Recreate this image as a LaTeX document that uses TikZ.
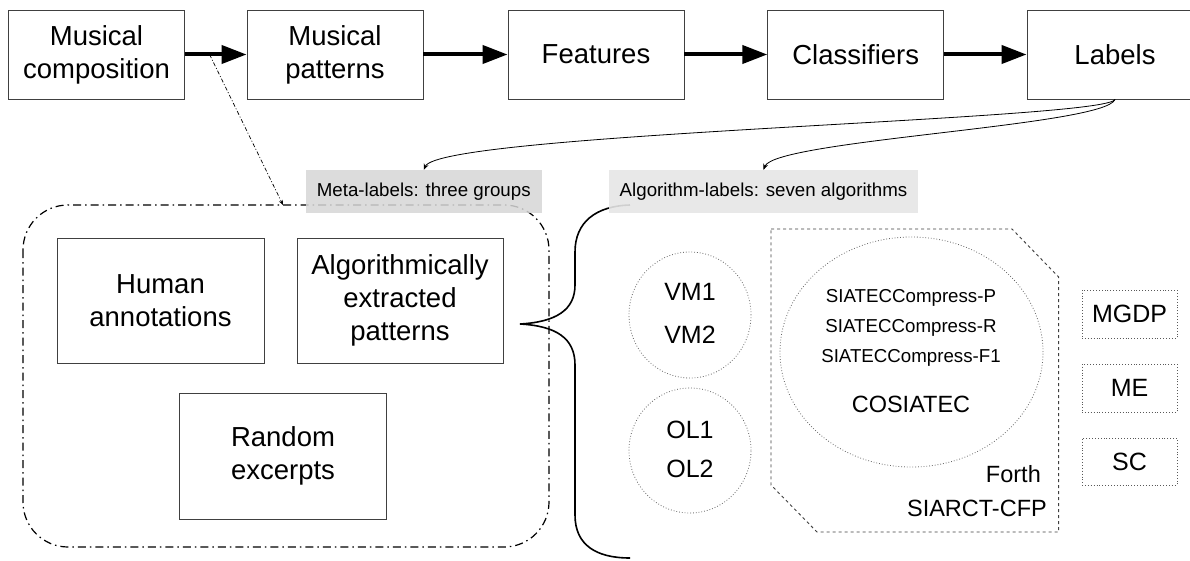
\documentclass[tikz,border=0pt]{standalone}
\usepackage{fontspec}
\setmainfont{Liberation Sans}
\usetikzlibrary{arrows.meta,shapes.geometric}
\definecolor{metafill}{HTML}{D6D6D6}
\definecolor{algfill}{HTML}{E6E6E6}
\begin{document}
\begin{tikzpicture}[x=1pt,y=-1pt,
  box/.style={draw=black!75, line width=0.9pt, minimum width=176pt, minimum height=89pt,
    align=center, inner sep=0pt, font=\fontsize{27.5}{33}\selectfont},
  innerbox/.style={draw=black!75, line width=0.9pt, minimum width=207pt, minimum height=125pt,
    align=center, inner sep=0pt, font=\fontsize{27.5}{33}\selectfont},
  bigarrow/.style={line width=4pt, -{Triangle[length=25pt,width=18pt]}},
  thincurve/.style={line width=0.8pt, -{Stealth[length=6pt,width=5pt]}},
  tagbox/.style={minimum height=43pt, inner sep=0pt, font=\fontsize{18.7}{22}\selectfont},
  dotellipse/.style={ellipse, draw=black!60, dotted, line width=0.8pt, inner sep=0pt},
  dotbox/.style={draw=black!65, dotted, line width=0.9pt, minimum width=95pt, minimum height=48pt,
    inner sep=0pt, font=\fontsize{25}{30}\selectfont},
  midtext/.style={font=\fontsize{25}{30}\selectfont, inner sep=0pt},
  smalltext/.style={font=\fontsize{18.7}{22}\selectfont, inner sep=0pt},
  cotext/.style={font=\fontsize{23.5}{28}\selectfont, inner sep=0pt}
]
\useasboundingbox (0,0) rectangle (1190,561);
\fill[white] (0,0) rectangle (1190,561);

% top pipeline
\node[box] (b1) at (96.5,54.5) {Musical\\composition};
\node[box] (b2) at (335,54.5) {Musical\\patterns};
\node[box] (b3) at (596,54.5) {Features};
\node[box] (b4) at (855.75,54.5) {Classifiers};
\node[box] (b5) at (1115,54.5) {Labels};
\draw[bigarrow] (b1.east) -- coordinate[pos=0.4] (tap) (b2.west);
\draw[bigarrow] (b2.east) -- (b3.west);
\draw[bigarrow] (b3.east) -- (b4.west);
\draw[bigarrow] (b4.east) -- (b5.west);

% meta-labels group
\draw[line width=1.2pt, dash pattern=on 8pt off 4pt on 1.5pt off 4pt, rounded corners=45pt]
  (23,205) rectangle (549,547);
\coordinate (grouptop) at (283,205);
\node[innerbox] (human) at (160.5,300.5) {Human\\annotations};
\node[innerbox, minimum width=206pt] (algo) at (400,300.5) {Algorithmically\\extracted\\patterns};
\node[innerbox, minimum height=126pt] (rand) at (283,456) {Random\\excerpts};
\draw[line width=0.7pt, dash pattern=on 4pt off 2pt on 1pt off 2pt,
  -{Stealth[length=5pt,width=4pt]}] (tap) -- (grouptop);

\node[tagbox, fill=metafill, fill opacity=0.85, text opacity=1, minimum width=235.5pt] (meta) at (423.75,191.5)
  {Meta-labels: three groups};

% brace
\coordinate (bracetip) at (520,324);
\draw[line width=1.6pt]
  (bracetip) .. controls (556,322) and (575,310) .. (575,285) -- (575,252)
  .. controls (575,222) and (596,206) .. (630,205);
\draw[line width=1.6pt]
  (bracetip) .. controls (556,326) and (575,338) .. (575,365) -- (575,515)
  .. controls (575,545) and (596,558) .. (630,558);

\node[tagbox, fill=algfill, fill opacity=0.9, text opacity=1, minimum width=309pt] (alg) at (763.5,191.5)
  {Algorithm-labels: seven algorithms};

% curves from labels
\draw[thincurve] (b5.south) .. controls (1105,120) and (440,133) .. (meta.north);
\draw[thincurve] (b5.south) .. controls (1105,126) and (775,140) .. (alg.north);

% algorithms
\node[dotellipse, minimum width=122pt, minimum height=126pt] (vm) at (690,315) {};
\node[midtext] (vm1) at (690,292) {VM1};
\node[midtext] (vm2) at (690,335) {VM2};
\node[dotellipse, minimum width=122pt, minimum height=125pt] (ol) at (690,450.5) {};
\node[midtext] (ol1) at (690,429.5) {OL1};
\node[midtext] (ol2) at (690,469) {OL2};

\draw[draw=black!75, dashed, line width=0.9pt]
  (771,229) -- (1012,229) -- (1058.6,277) -- (1058.6,532) -- (817,532) -- (771,485) -- cycle;
\node[dotellipse, minimum width=263pt, minimum height=230pt] (siaell) at (911.5,352) {};
\node[smalltext] (sp) at (911,298) {SIATECCompress-P};
\node[smalltext] (sr) at (911,328) {SIATECCompress-R};
\node[smalltext] (sf) at (911,358) {SIATECCompress-F1};
\node[cotext] (cos) at (911,404.5) {COSIATEC};
\node[cotext, anchor=east] (forth) at (1041,474.5) {Forth};
\node[cotext, anchor=east] (siarct) at (1047,508.5) {SIARCT-CFP};

\node[dotbox] (mgdp) at (1129.5,314) {MGDP};
\node[dotbox] (me) at (1129.5,388) {ME};
\node[dotbox, minimum height=47pt] (sc) at (1129.5,461.5) {SC};
\end{tikzpicture}
\end{document}
